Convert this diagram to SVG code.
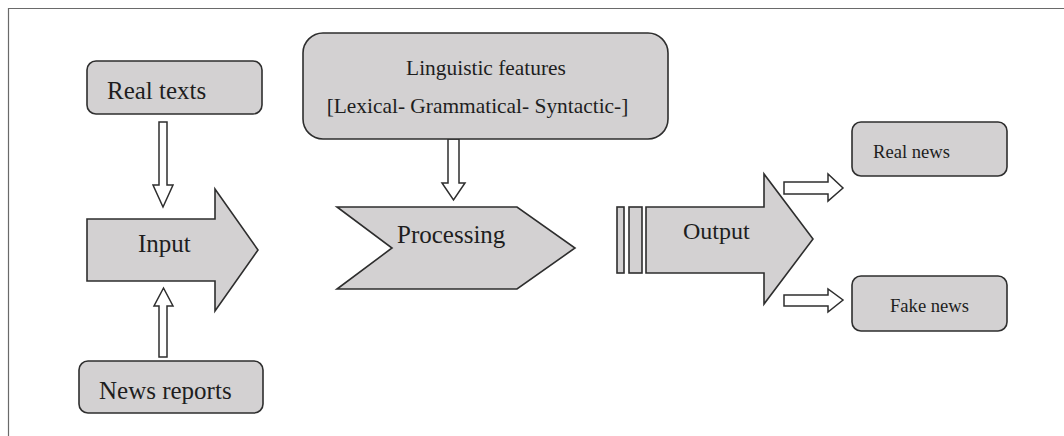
<svg xmlns="http://www.w3.org/2000/svg" width="1064" height="436" viewBox="0 0 1064 436">
<style>
.shape{fill:#d3d1d2;stroke:#2e2e2e;stroke-width:1.6;stroke-linejoin:miter}
.arr{fill:#ffffff;stroke:#2e2e2e;stroke-width:1.5;stroke-linejoin:miter}
.t{font-family:"Liberation Serif","Times New Roman",serif;fill:#1e1e1e}
.frame{stroke:#6a6a6a;stroke-width:1.2;fill:none}
</style>
<rect width="1064" height="436" fill="#ffffff"/>
<path class="frame" d="M8.5,436 V8.5 H1064"/>
<g id="connectors">
<path class="arr" d="M159,122 H167 V185 H173 L163,207 L153,185 H159 Z"/>
<path class="arr" d="M159,357 V306 H154 L163.5,288 L173,306 H167 V357 Z"/>
<path class="arr" d="M448,139 H459 V183 H465 L453.5,200 L442,183 H448 Z"/>
<path class="arr" d="M784,182 H828 V174 L843,188 L828,201 V194 H784 Z"/>
<path class="arr" d="M784,295 H828 V289 L843,300 L828,312 V306 H784 Z"/>
</g>
<g id="real-texts">
<rect class="shape" x="87" y="61" width="175" height="53" rx="9"/>
<text class="t" x="107" y="99" font-size="25">Real texts</text>
</g>
<g id="input">
<path class="shape" d="M87,219 H215 V189 L258,250 L215,311 V281 H87 Z"/>
<text class="t" x="138" y="252" font-size="25">Input</text>
</g>
<g id="news-reports">
<rect class="shape" x="79" y="361" width="184" height="52" rx="9"/>
<text class="t" x="99" y="399" font-size="25">News reports</text>
</g>
<g id="linguistic-features">
<rect class="shape" x="303" y="33" width="365" height="106" rx="20"/>
<text class="t" x="486" y="75" font-size="21.4" text-anchor="middle">Linguistic features</text>
<text class="t" x="477.5" y="113" font-size="21.4" text-anchor="middle">[Lexical- Grammatical- Syntactic-]</text>
</g>
<g id="processing">
<path class="shape" d="M337,207 H517 L575,248 L517,289 H337 L392,248 Z"/>
<text class="t" x="397" y="243" font-size="25">Processing</text>
</g>
<g id="output">
<rect class="shape" x="617" y="207" width="7" height="66"/>
<rect class="shape" x="629" y="207" width="13" height="66"/>
<path class="shape" d="M646,207 H764 V174 L813,239 L764,304 V273 H646 Z"/>
<text class="t" x="683" y="239" font-size="24">Output</text>
</g>
<g id="real-news">
<rect class="shape" x="852" y="122" width="155" height="54" rx="9"/>
<text class="t" x="873" y="158" font-size="18.6">Real news</text>
</g>
<g id="fake-news">
<rect class="shape" x="852" y="276" width="155" height="55" rx="9"/>
<text class="t" x="890" y="312" font-size="18.6">Fake news</text>
</g>
</svg>
